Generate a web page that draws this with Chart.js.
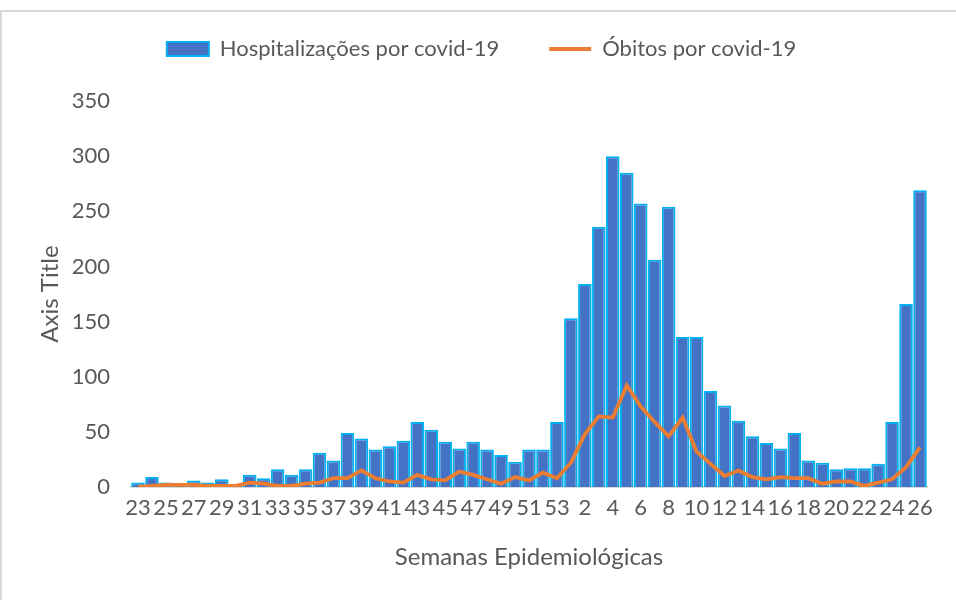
<!DOCTYPE html>
<html>
<head>
<meta charset="utf-8">
<script src="https://cdn.jsdelivr.net/npm/chart.js@4.4.0/dist/chart.umd.min.js"></script>
<style>
    html, body { margin: 0; padding: 0; background: #ffffff; }
    #frame {
        position: absolute; left: 0; top: 10px;
        width: 1000px; height: 700px;
        border-left: 2px solid #d9d9d9; border-top: 2px solid #d9d9d9;
    }
    #wrap { position: absolute; left: 0; top: 0; width: 956px; height: 600px; }
</style>
</head>
<body>
<div id="frame"></div>
<div id="wrap"><canvas id="chart" width="956" height="600"></canvas></div>
<script>
(function () {
    'use strict';

    // Semanas epidemiológicas 23-53 (2020) e 1-26 (2021)
    const weeks2020 = ['23', '24', '25', '26', '27', '28', '29', '30', '31', '32', '33', '34', '35', '36', '37', '38',
        '39', '40', '41', '42', '43', '44', '45', '46', '47', '48', '49', '50', '51', '52', '53'];
    const weeks2021 = ['1', '2', '3', '4', '5', '6', '7', '8', '9', '10', '11', '12', '13', '14', '15', '16',
        '17', '18', '19', '20', '21', '22', '23', '24', '25', '26'];

    const hosp2020 = [4, 9, 4, 2, 6, 4, 7, 1, 11, 8, 16, 11, 16, 31, 24, 49,
        44, 34, 37, 42, 59, 52, 41, 35, 41, 34, 29, 23, 34, 34, 59];
    const hosp2021 = [153, 184, 236, 300, 285, 257, 206, 254, 136, 136, 87, 74, 60, 46, 40, 35,
        49, 24, 22, 16, 17, 17, 21, 59, 166, 269];

    const obitos2020 = [0, 1, 2, 2, 2, 1, 1, 1, 4, 3, 1, 1, 3, 4, 8, 8,
        15, 8, 5, 4, 11, 7, 6, 14, 11, 7, 3, 9, 6, 13, 8];
    const obitos2021 = [22, 48, 64, 63, 92, 73, 59, 46, 63, 32, 21, 10, 15, 9, 7, 9,
        8, 8, 3, 5, 5, 1, 4, 7, 18, 36];

    const yMax = 350;
    const yStep = 50;

    const labels = weeks2020.concat(weeks2021);
    const hospData = hosp2020.concat(hosp2021);
    const obitosData = obitos2020.concat(obitos2021);

    const textColor = '#595959';
    const family = 'Lato, "Open Sans", sans-serif';
    const titleFont = { family: family, size: 24 };
    const legendFont = { family: family, size: 22 };
    const tickFont = { family: family, size: 22 };

    Chart.defaults.font.family = family;
    Chart.defaults.color = textColor;

    // extra room between the legend and the plot
    const legendGap = {
        id: 'legendGap',
        beforeInit: function (chart) {
            const fit = chart.legend.fit;
            chart.legend.fit = function () {
                fit.call(this);
                this.height += 31;
            };
        }
    };

    new Chart(document.getElementById('chart').getContext('2d'), {
        data: {
            labels: labels,
            datasets: [{
                type: 'bar',
                label: 'Hospitalizações por covid-19',
                data: hospData,
                backgroundColor: '#4472c4',
                borderColor: '#00b0f0',
                borderWidth: 2,
                barPercentage: 0.97,
                categoryPercentage: 1,
                pointStyle: 'rect',
                order: 2
            }, {
                type: 'line',
                label: 'Óbitos por covid-19',
                data: obitosData,
                borderColor: '#ed7d31',
                backgroundColor: '#ed7d31',
                borderWidth: 3.8,
                pointRadius: 0,
                pointStyle: 'line',
                tension: 0,
                order: 1
            }]
        },
        options: {
            responsive: false,
            animation: false,
            layout: {
                padding: { top: -12, left: 36, right: 29, bottom: 28 }
            },
            plugins: {
                legend: {
                    position: 'top',
                    labels: {
                        usePointStyle: true,
                        pointStyleWidth: 42,
                        boxHeight: 14,
                        padding: 50,
                        color: textColor,
                        font: legendFont,
                        sort: function (a, b) { return a.datasetIndex - b.datasetIndex; }
                    }
                },
                tooltip: { enabled: false }
            },
            scales: {
                x: {
                    grid: { display: false, drawTicks: false },
                    border: { color: '#d9d9d9', width: 2 },
                    afterFit: function (scale) { scale.height = 85; },
                    ticks: {
                        autoSkip: false,
                        maxRotation: 0,
                        padding: 8,
                        color: textColor,
                        font: tickFont,
                        callback: function (value, index) {
                            return index % 2 === 0 ? this.getLabelForValue(value) : '';
                        }
                    },
                    title: {
                        display: true,
                        text: 'Semanas Epidemiológicas',
                        color: textColor,
                        font: titleFont,
                        padding: { top: 20, bottom: 0 }
                    }
                },
                y: {
                    min: 0,
                    max: yMax,
                    grid: { display: false, drawTicks: false },
                    border: { display: false },
                    afterFit: function (scale) { scale.width = 95; },
                    ticks: {
                        stepSize: yStep,
                        padding: 21,
                        color: textColor,
                        font: tickFont
                    },
                    title: {
                        display: true,
                        text: 'Axis Title',
                        color: textColor,
                        font: titleFont,
                        padding: { top: 0, bottom: 3 }
                    }
                }
            }
        },
        plugins: [legendGap]
    });
})();
</script>
</body>
</html>
